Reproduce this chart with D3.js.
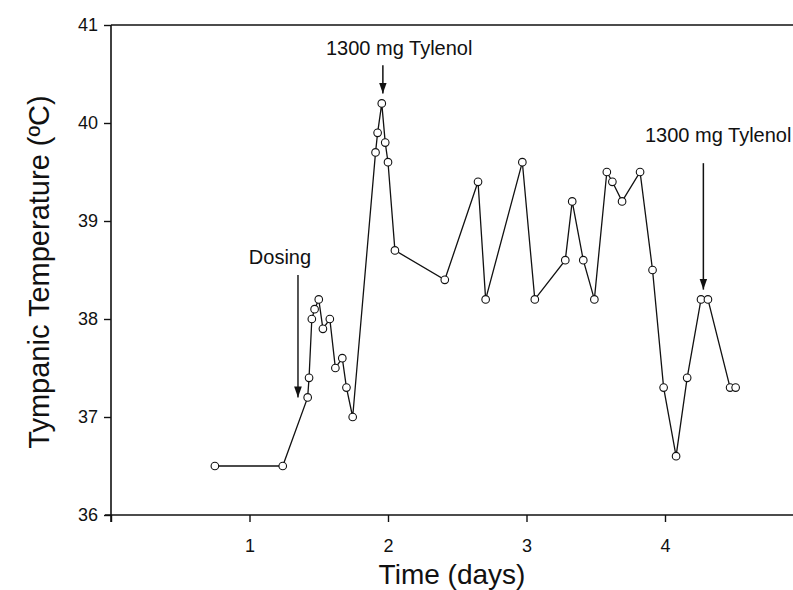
<!DOCTYPE html>
<html>
<head>
<meta charset="utf-8">
<script src="https://cdn.jsdelivr.net/npm/d3@7"></script>
<style>
  body { margin: 0; background: #fff; }
  svg { display: block; font-family: "Liberation Sans", Arial, Helvetica, sans-serif; }
</style>
</head>
<body>
<svg id="chart"></svg>
<script>
// data
const times = [0.75, 1.24, 1.42, 1.43, 1.45, 1.47, 1.50, 1.53, 1.58, 1.62, 1.67, 1.70, 1.745,
  1.91, 1.925, 1.955, 1.98, 2.00, 2.05, 2.41, 2.65, 2.705, 2.97, 3.06, 3.28, 3.33, 3.41, 3.49,
  3.58, 3.62, 3.69, 3.82, 3.91, 3.99, 4.08, 4.16, 4.26, 4.31, 4.47, 4.51];
const temps = [36.5, 36.5, 37.2, 37.4, 38.0, 38.1, 38.2, 37.9, 38.0, 37.5, 37.6, 37.3, 37.0,
  39.7, 39.9, 40.2, 39.8, 39.6, 38.7, 38.4, 39.4, 38.2, 39.6, 38.2, 38.6, 39.2, 38.6, 38.2,
  39.5, 39.4, 39.2, 39.5, 38.5, 37.3, 36.6, 37.4, 38.2, 38.2, 37.3, 37.3];

const xTicks = [0, 1, 2, 3, 4];
const yTicks = [36, 37, 38, 39, 40, 41];

// annotations: label, arrow x (days), arrow top and tip (deg C)
const annoLabels = ["Dosing", "1300 mg Tylenol", "1300 mg Tylenol"];
const annoX = [1.35, 1.963, 4.277];
const annoTop = [38.45, 40.59, 39.59];
const annoTip = [37.2, 40.30, 38.30];

const width = 793;
const height = 590;

const svg = d3.select('#chart')
  .attr('width', width)
  .attr('height', height);

// the plot runs on past the right edge, as in the original
const x = d3.scaleLinear().domain([0, 5]).range([111, 803.5]);
const y = d3.scaleLinear().domain([36, 41]).range([515, 25]);

// arrow head
svg.append('defs').append('marker')
  .attr('id', 'head')
  .attr('viewBox', '0 0 10 10')
  .attr('refX', 10).attr('refY', 5)
  .attr('markerWidth', 11).attr('markerHeight', 11)
  .attr('markerUnits', 'userSpaceOnUse')
  .attr('orient', 'auto')
  .append('path')
  .attr('d', 'M0,1.5 L10,5 L0,8.5 Z')
  .attr('fill', '#111');

// axes
const xAxis = svg.append('g')
  .attr('transform', `translate(0,${y(36)})`)
  .call(d3.axisBottom(x).tickValues(xTicks).tickSize(7).tickPadding(17)
    .tickFormat(d => (d === 0 ? '' : d)));

const yAxis = svg.append('g')
  .attr('transform', `translate(${x(0)},0)`)
  .call(d3.axisLeft(y).tickValues(yTicks).tickSize(7).tickPadding(6)
    .tickFormat(d3.format('d')));

[xAxis, yAxis].forEach(g => {
  g.select('.domain').attr('stroke', '#111').attr('stroke-width', 1.6);
  g.selectAll('.tick line').attr('stroke', '#111').attr('stroke-width', 1.4);
  g.selectAll('.tick text').attr('fill', '#111').style('font-size', '18px');
});
xAxis.select('.domain').attr('d', `M${x(0) - 6},0H${x(5)}`);
yAxis.select('.domain').attr('d', `M0,${y(41)}V${y(36) + 7}`);

// top frame line
svg.append('line')
  .attr('x1', x(0)).attr('x2', x(5))
  .attr('y1', y(41)).attr('y2', y(41))
  .attr('stroke', '#111').attr('stroke-width', 1.6);

// titles
svg.append('text')
  .attr('x', 452).attr('y', 584)
  .attr('text-anchor', 'middle')
  .style('font-size', '28px').attr('fill', '#111')
  .text('Time (days)');

svg.append('text')
  .attr('transform', 'translate(49,272) rotate(-90)')
  .attr('text-anchor', 'middle')
  .style('font-size', '29px').attr('fill', '#111')
  .text('Tympanic Temperature (ºC)');

// data line + open circles
const pts = times.map((t, i) => [t, temps[i]]);

svg.append('path')
  .datum(pts)
  .attr('d', d3.line().x(d => x(d[0])).y(d => y(d[1])))
  .attr('fill', 'none')
  .attr('stroke', '#111')
  .attr('stroke-width', 1.3);

svg.selectAll('.pt')
  .data(pts)
  .enter()
  .append('circle')
  .attr('class', 'pt')
  .attr('cx', d => x(d[0]))
  .attr('cy', d => y(d[1]))
  .attr('r', 3.8)
  .attr('fill', '#fff')
  .attr('stroke', '#111')
  .attr('stroke-width', 1.1);

// annotations (label placement is layout, not data)
const labelPos = [[280, 264, 'middle'], [326, 55, 'start'], [645, 142, 'start']];
annoLabels.forEach((lab, i) => {
  svg.append('line')
    .attr('x1', x(annoX[i])).attr('x2', x(annoX[i]))
    .attr('y1', y(annoTop[i])).attr('y2', y(annoTip[i]))
    .attr('stroke', i === 0 ? '#444' : '#111')
    .attr('stroke-width', i === 0 ? 1.8 : 1.5)
    .attr('marker-end', 'url(#head)');
  svg.append('text')
    .attr('x', labelPos[i][0]).attr('y', labelPos[i][1])
    .attr('text-anchor', labelPos[i][2])
    .style('font-size', '20px').attr('fill', '#111')
    .text(lab);
});
</script>
</body>
</html>
